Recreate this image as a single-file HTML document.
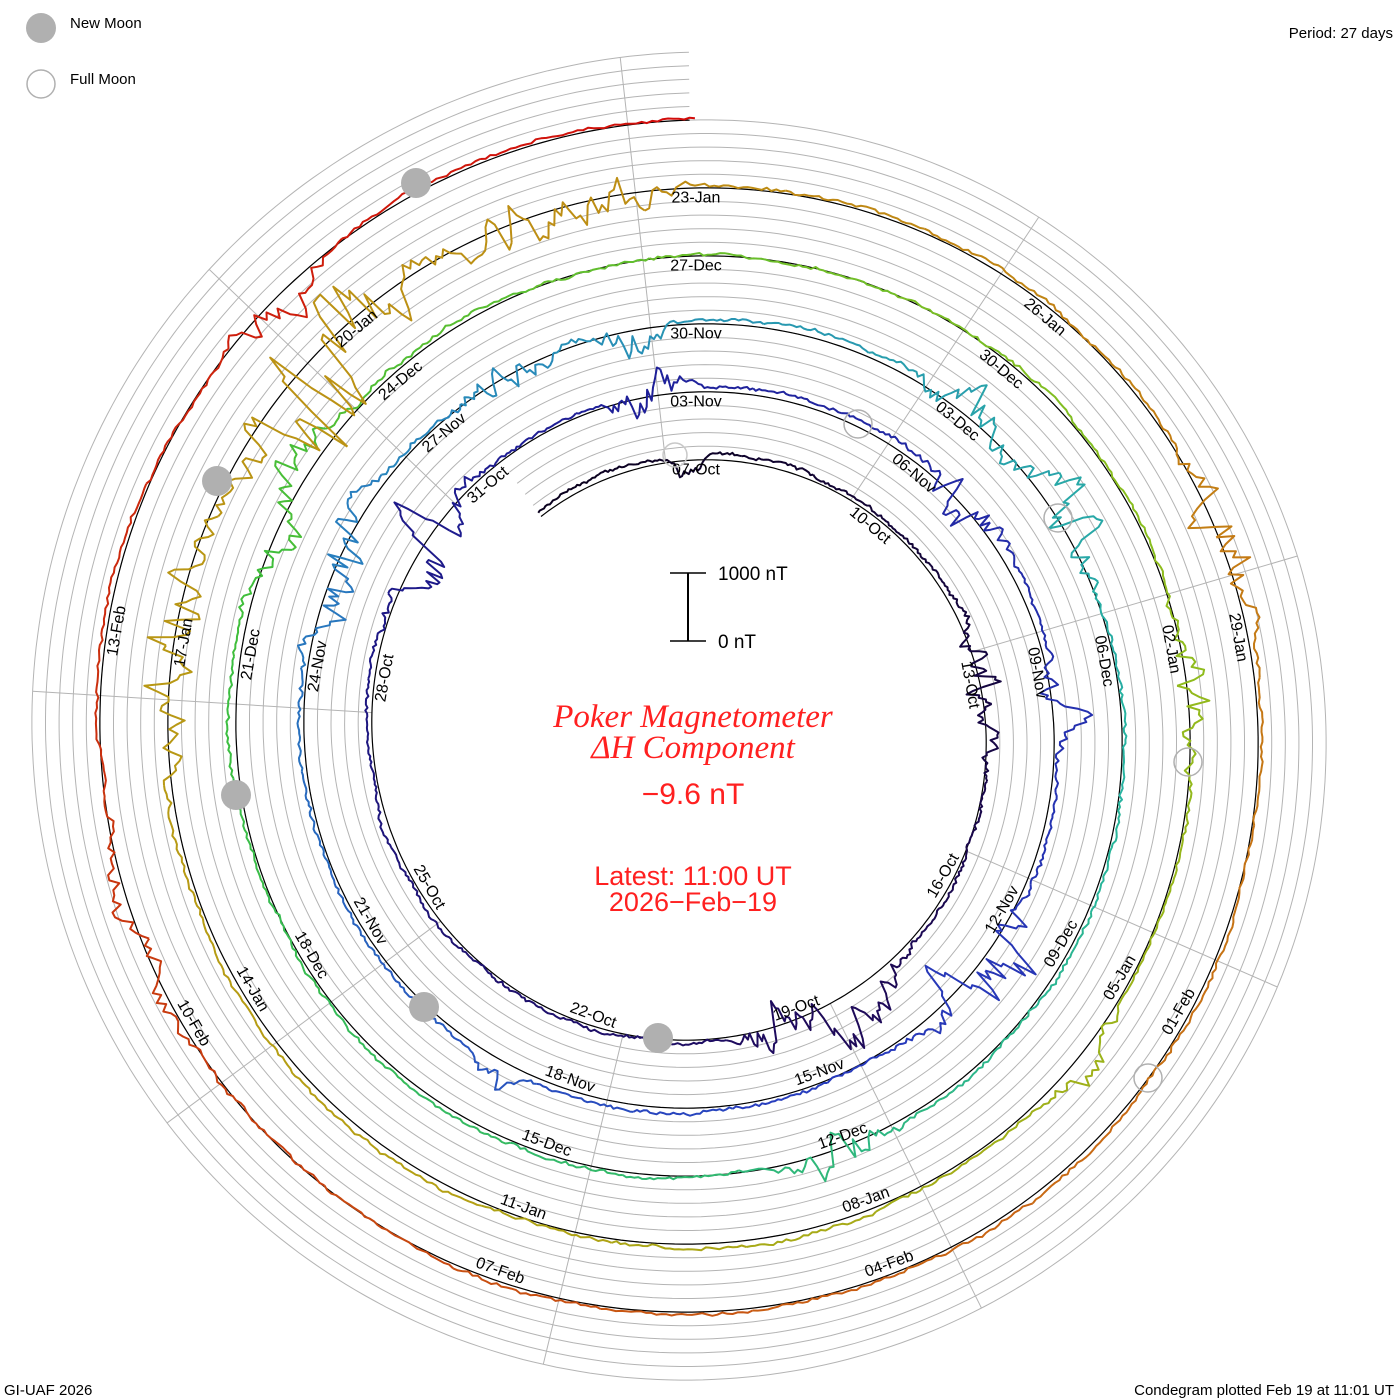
<!DOCTYPE html>
<html><head><meta charset="utf-8">
<style>
html,body{margin:0;padding:0;background:#fff;}
svg{display:block;}
text{font-family:"Liberation Sans",sans-serif;}
</style></head>
<body>
<svg id="s" width="1400" height="1400" viewBox="0 0 1400 1400" xmlns="http://www.w3.org/2000/svg">
<rect width="1400" height="1400" fill="#fff"/>
<g id="grid"></g>
<g id="traces"></g>
<g id="labels"></g>
<g id="moons">
<circle cx="416" cy="183" r="15" fill="#b0b0b0"/>
<circle cx="217" cy="481" r="15" fill="#b0b0b0"/>
<circle cx="236" cy="795" r="15" fill="#b0b0b0"/>
<circle cx="424" cy="1007" r="15" fill="#b0b0b0"/>
<circle cx="658" cy="1038" r="15" fill="#b0b0b0"/>
<circle cx="858" cy="424" r="14" fill="none" stroke="#b0b0b0" stroke-width="1.5"/>
<circle cx="1058" cy="518" r="14" fill="none" stroke="#b0b0b0" stroke-width="1.5"/>
<circle cx="1188" cy="762" r="14" fill="none" stroke="#b0b0b0" stroke-width="1.5"/>
<circle cx="1148" cy="1078" r="14" fill="none" stroke="#b0b0b0" stroke-width="1.5"/>
<circle cx="675" cy="455" r="12" fill="none" stroke="#c8c8c8" stroke-width="1.5"/>
</g>
<circle cx="41" cy="28" r="15" fill="#b0b0b0"/>
<circle cx="41" cy="84" r="14" fill="none" stroke="#b0b0b0" stroke-width="1.5"/>
<text x="70" y="28" font-size="15" fill="#000">New Moon</text>
<text x="70" y="84" font-size="15" fill="#000">Full Moon</text>
<text x="1393" y="38" font-size="15" text-anchor="end" fill="#000">Period: 27 days</text>
<text x="4" y="1395" font-size="15" fill="#000">GI-UAF 2026</text>
<text x="1394" y="1395" font-size="15" text-anchor="end" fill="#000">Condegram plotted Feb 19 at 11:01 UT</text>
<line x1="688" y1="573" x2="688" y2="641" stroke="#000" stroke-width="2"/>
<line x1="670" y1="573" x2="706" y2="573" stroke="#000" stroke-width="1.5"/>
<line x1="670" y1="641" x2="706" y2="641" stroke="#000" stroke-width="1.5"/>
<text x="718" y="580" font-size="19" fill="#000">1000 nT</text>
<text x="718" y="648" font-size="19" fill="#000">0 nT</text>
<text x="693" y="727" font-size="33" text-anchor="middle" fill="#ff2020" font-style="italic" style="font-family:'Liberation Serif',serif">Poker Magnetometer</text>
<text x="693" y="758" font-size="33" text-anchor="middle" fill="#ff2020" font-style="italic" style="font-family:'Liberation Serif',serif">ΔH Component</text>
<text x="693" y="804" font-size="30" text-anchor="middle" fill="#ff2020">−9.6 nT</text>
<text x="693" y="885" font-size="27" text-anchor="middle" fill="#ff2020">Latest: 11:00 UT</text>
<text x="693" y="911" font-size="27" text-anchor="middle" fill="#ff2020">2026−Feb−19</text>
</svg>
<script>
(function(){
var NS="http://www.w3.org/2000/svg";
var cx=696, cy=733, r0=273, P=68;
function R(a){return r0+P*a/360;}
function pt(a,r){var t=a*Math.PI/180;return [cx+r*Math.sin(t), cy-r*Math.cos(t)];}
function el(tag,attrs,parent){var e=document.createElementNS(NS,tag);for(var k in attrs)e.setAttribute(k,attrs[k]);parent.appendChild(e);return e;}
var grid=document.getElementById('grid'), tr=document.getElementById('traces'), lb=document.getElementById('labels');
var A0=-35.6, A1=1800;
for(var k=1;k<=5;k++){
  var d="";
  for(var a=A0;a<=A1;a+=1){var p=pt(a,R(a)+13.6*k);d+=(d?"L":"M")+p[0].toFixed(1)+","+p[1].toFixed(1);}
  el('path',{d:d,fill:'none',stroke:'#b4b4b4','stroke-width':1},grid);
}
for(var j=0;j<9;j++){
  var ang=33.6+40*j;
  var first=ang; while(first-360>=A0) first-=360; while(first<A0) first+=360;
  var last=first; while(last+360<=A1) last+=360;
  var p1=pt(ang,R(first)), p2=pt(ang,R(last)+68);
  el('line',{x1:p1[0],y1:p1[1],x2:p2[0],y2:p2[1],stroke:'#b4b4b4','stroke-width':1},grid);
}
var d="";
for(var a=A0;a<=A1;a+=1){var p=pt(a,R(a));d+=(d?"L":"M")+p[0].toFixed(1)+","+p[1].toFixed(1);}
el('path',{d:d,fill:'none',stroke:'#000','stroke-width':1.2},grid);
var stops=[[0,[10,0,30]],[0.1,[30,10,90]],[0.2,[30,30,150]],[0.3,[40,60,190]],[0.38,[40,130,190]],[0.46,[40,180,160]],[0.56,[60,190,60]],[0.64,[140,190,30]],[0.72,[180,160,20]],[0.8,[190,140,20]],[0.87,[200,110,20]],[0.93,[200,60,15]],[1,[210,10,10]]];
function col(t){for(var i=1;i<stops.length;i++){if(t<=stops[i][0]){var s0=stops[i-1],s1=stops[i];var f=(t-s0[0])/(s1[0]-s0[0]);var c=s0[1].map(function(v,n){return Math.round(v+(s1[1][n]-v)*f);});return 'rgb('+c.join(',')+')';}}return 'rgb(210,10,10)';}
var seed=12345;function rnd(){seed=(seed*1103515245+12345)%2147483648;return seed/2147483648;}
// [center, width, amp, bias]
var storms=[[-2,3,25,-12],[80,12,30,0],[150,10,45,15],[165,6,40,10],[305,10,50,-10],[352,6,40,-15],[410,8,35,-10],[445,6,35,5],[490,10,60,15],[570,3,30,10],[655,10,55,0],[692,8,30,0],[711,4,40,-15],[760,8,40,0],[780,8,50,10],[881,6,40,10],[1020,10,45,0],[1165,8,40,0],[1210,5,25,5],[1360,12,50,0],[1395,12,110,-40],[1420,6,60,-10],[1432,5,50,0],[1510,8,45,0],[1690,15,20,0],[1755,6,30,-10]];
function sv(a){var s=0,b=0;for(var i=0;i<storms.length;i++){var z=(a-storms[i][0])/storms[i][1];var g=Math.exp(-z*z);s+=storms[i][2]*g;b+=storms[i][3]*g;}return [s,b];}
var w1=0,w2=0,pts=[];
for(var a=A0;a<=A1;a+=0.5){
  w1=w1*0.97+(rnd()-0.5)*1.6;
  var st=sv(a);
  w2=w2*0.75+(rnd()-0.5)*st[0]*0.9;
  var dev=4+w1+w2+st[1]+(rnd()-0.5)*2.5;
  pts.push([a,dev]);
}
var seg=30;
for(var i=0;i<pts.length-1;i+=seg){
  var dd="";
  for(var m=i;m<=Math.min(i+seg,pts.length-1);m++){var p=pt(pts[m][0],R(pts[m][0])+pts[m][1]);dd+=(dd?"L":"M")+p[0].toFixed(1)+","+p[1].toFixed(1);}
  var t=(pts[i][0]-A0)/(A1-A0);
  el('path',{d:dd,fill:'none',stroke:col(t),'stroke-width':2,'stroke-linejoin':'round'},tr);
}
var mon=['Jan','Feb','Mar','Apr','May','Jun','Jul','Aug','Sep','Oct','Nov','Dec'];
for(var n=0;n<=129;n+=3){
  var dt=new Date(Date.UTC(2025,9,7+n));
  var s=('0'+dt.getUTCDate()).slice(-2)+'-'+mon[dt.getUTCMonth()];
  var a=n*360/27, am=((a%360)+360)%360;
  var p=pt(a,R(a)-10);
  var rot=(am<90||am>270)?am:am-180;
  var t=el('text',{x:p[0].toFixed(1),y:p[1].toFixed(1),'font-size':16,'text-anchor':'middle','dominant-baseline':'central',fill:'#000',transform:'rotate('+rot.toFixed(1)+' '+p[0].toFixed(1)+' '+p[1].toFixed(1)+')'},lb);
  t.textContent=s;
}
})();
</script>
</body></html>
